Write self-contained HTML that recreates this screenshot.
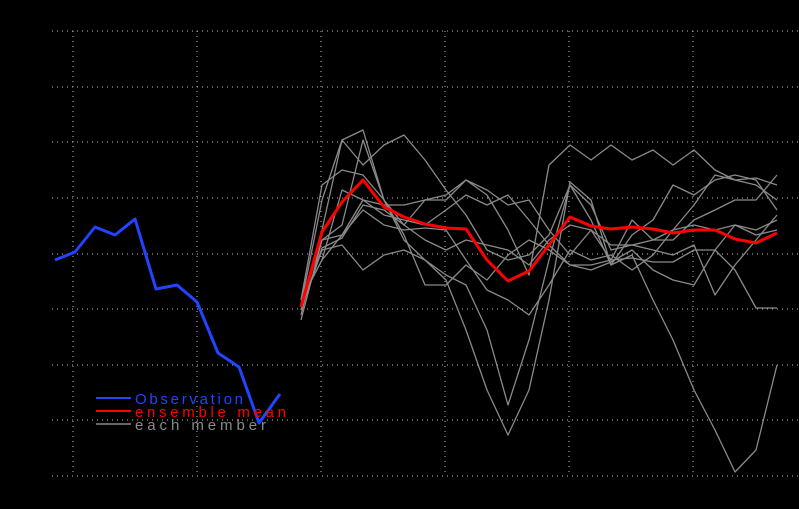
<!DOCTYPE html>
<html><head><style>html,body{margin:0;padding:0;background:#000;}svg{display:block}</style></head>
<body>
<svg width="799" height="509" viewBox="0 0 799 509" xmlns="http://www.w3.org/2000/svg">
<rect width="799" height="509" fill="#000"/>
<g stroke="#bbb" stroke-width="1" stroke-dasharray="1,4">
<line x1="52" y1="31" x2="799" y2="31"/><line x1="52" y1="87" x2="799" y2="87"/>
<line x1="52" y1="142" x2="799" y2="142"/><line x1="52" y1="198" x2="799" y2="198"/>
<line x1="52" y1="254" x2="799" y2="254"/><line x1="52" y1="309" x2="799" y2="309"/>
<line x1="52" y1="365" x2="799" y2="365"/><line x1="52" y1="420" x2="799" y2="420"/>
<line x1="52" y1="476" x2="799" y2="476"/>
<line x1="73" y1="31" x2="73" y2="476"/><line x1="197" y1="31" x2="197" y2="476"/>
<line x1="321" y1="31" x2="321" y2="476"/><line x1="445" y1="31" x2="445" y2="476"/>
<line x1="569" y1="31" x2="569" y2="476"/><line x1="693" y1="31" x2="693" y2="476"/>
</g>
<g fill="none" stroke="#8a8a8a" stroke-width="1.3" stroke-linejoin="round">
<polyline points="301,320 322,240 342,225 363,140 384,200 404,240 425,260 446,280 466,330 487,390 508,435 529,390 549,300 570,182 591,200 611,265 632,255 653,300 673,340 694,390 715,430 735,472 756,450 777,365"/>
<polyline points="301,310 322,250 342,245 363,270 384,255 404,250 425,260 446,275 466,285 487,330 508,405 529,340 549,260 570,185 591,205 611,250 632,245 653,250 673,255 694,245 715,295 735,265 756,240 777,215"/>
<polyline points="301,300 322,185 342,170 363,175 384,200 404,225 425,200 446,200 466,180 487,195 508,230 529,275 549,165 570,145 591,160 611,145 632,160 653,150 673,165 694,150 715,170 735,180 756,178 777,185"/>
<polyline points="301,305 322,200 342,140 363,165 384,145 404,135 425,160 446,190 466,215 487,250 508,260 529,255 549,235 570,185 591,220 611,265 632,235 653,220 673,185 694,195 715,180 735,175 756,180 777,210"/>
<polyline points="301,315 322,230 342,140 363,130 384,200 404,235 425,285 446,285 466,265 487,280 508,255 529,240 549,250 570,265 591,265 611,260 632,258 653,262 673,262 694,250 715,250 735,225 756,230 777,220"/>
<polyline points="301,300 322,260 342,190 363,200 384,215 404,220 425,225 446,210 466,195 487,205 508,195 529,220 549,245 570,265 591,270 611,262 632,250 653,270 673,280 694,285 715,250 735,270 756,308 777,308"/>
<polyline points="301,305 322,240 342,235 363,200 384,205 404,205 425,200 446,195 466,180 487,190 508,205 529,200 549,230 570,255 591,230 611,260 632,220 653,240 673,240 694,220 715,210 735,200 756,200 777,175"/>
<polyline points="301,300 322,260 342,235 363,210 384,225 404,230 425,228 446,230 466,260 487,290 508,300 529,315 549,285 570,250 591,260 611,255 632,270 653,255 673,230 694,205 715,175 735,180 756,185 777,200"/>
<polyline points="301,310 322,248 342,238 363,205 384,210 404,225 425,240 446,250 466,240 487,245 508,250 529,265 549,240 570,225 591,230 611,245 632,245 653,240 673,230 694,225 715,230 735,225 756,235 777,230"/>
</g>
<polyline fill="none" stroke="#ff0000" stroke-width="3" stroke-linejoin="round" points="301,307 322,232 342,202 363,180 384,207 404,217 425,224 446,228 466,229 487,260 508,281 529,271 549,245 570,217 591,226 611,229 632,227 653,229 673,233 694,230 715,230 735,239 756,243 777,233"/>
<polyline fill="none" stroke="#2244ff" stroke-width="3" stroke-linejoin="round" points="55,260 75,252 95,227 115,235 135,219 156,289 177,285 197,302 218,353 239,367 259,423 280,394"/>
<line x1="96" y1="398" x2="131" y2="398" stroke="#2244ff" stroke-width="2"/>
<line x1="96" y1="411" x2="131" y2="411" stroke="#ff0000" stroke-width="2"/>
<line x1="96" y1="424" x2="131" y2="424" stroke="#8a8a8a" stroke-width="1.5"/>
<g font-family="Liberation Sans, sans-serif" font-size="15">
<text x="135" y="404" fill="#2244ff" textLength="108" lengthAdjust="spacing">Observation</text>
<text x="135" y="417" fill="#ff0000" textLength="151" lengthAdjust="spacing">ensemble mean</text>
<text x="135" y="430" fill="#8a8a8a" textLength="131" lengthAdjust="spacing">each member</text>
</g>
</svg>
</body></html>
